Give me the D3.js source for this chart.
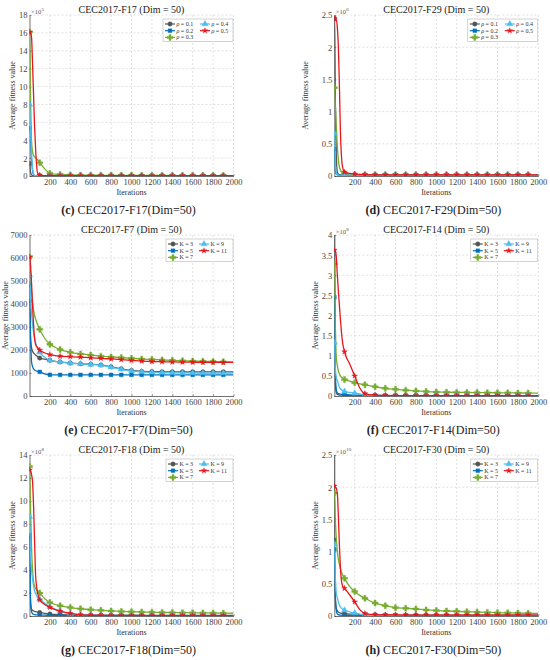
<!DOCTYPE html>
<html>
<head>
<meta charset="utf-8">
<script src="https://cdnjs.cloudflare.com/ajax/libs/d3/7.8.5/d3.min.js"></script>
<style>
body { margin: 0; background: #fff; overflow: hidden; }
svg { display: block; }
svg text { font-family: 'Liberation Serif', 'Times New Roman', serif; }
</style>
</head>
<body>
<svg width="550" height="660" viewBox="0 0 550 660"></svg>
<script>
// sampled iterations (markers drawn at 1, 100, 200 ... 1900)
const iterations = [0, 1, 10, 20, 30, 40, 50, 60, 80, 100, 150, 200, 250, 300,
  400, 500, 600, 700, 800, 900, 1000, 1100, 1200, 1300, 1400, 1500, 1600, 1700, 1800, 1900, 2000]
const xTicks = [200, 400, 600, 800, 1000, 1200, 1400, 1600, 1800, 2000]

const rhoNames = ['0.1', '0.2', '0.3', '0.4', '0.5']
const kNames = ['3', '5', '7', '9', '11']

// F17, x10^5
const f17Ticks = [0, 2, 4, 6, 8, 10, 12, 14, 16, 18]
const f17Values = [
  [1.41, 1.41, 0.5, 0.12, 0.05, 0.03, 0.025, 0.02, 0.02, 0.02, 0.02, 0.02, 0.02, 0.02,
   0.02, 0.02, 0.02, 0.02, 0.02, 0.02, 0.02, 0.02, 0.02, 0.02, 0.02, 0.02, 0.02, 0.02, 0.02, 0.02, 0.02],
  [5.37, 5.37, 4.0, 2.0, 0.6, 0.15, 0.05, 0.03, 0.02, 0.02, 0.02, 0.02, 0.02, 0.02,
   0.02, 0.02, 0.02, 0.02, 0.02, 0.02, 0.02, 0.02, 0.02, 0.02, 0.02, 0.02, 0.02, 0.02, 0.02, 0.02, 0.02],
  [16.1, 16.1, 9.0, 4.0, 2.7, 2.3, 2.15, 2.05, 1.8, 1.49, 0.8, 0.3, 0.2, 0.17,
   0.12, 0.1, 0.09, 0.08, 0.08, 0.07, 0.07, 0.06, 0.06, 0.06, 0.05, 0.05, 0.05, 0.05, 0.05, 0.05, 0.05],
  [8.0, 8.0, 5.0, 2.5, 0.8, 0.2, 0.06, 0.03, 0.02, 0.02, 0.02, 0.02, 0.02, 0.02,
   0.02, 0.02, 0.02, 0.02, 0.02, 0.02, 0.02, 0.02, 0.02, 0.02, 0.02, 0.02, 0.02, 0.02, 0.02, 0.02, 0.02],
  [16.1, 16.1, 16.0, 15.5, 12.5, 9.0, 5.5, 3.0, 0.3, 0.08, 0.04, 0.03, 0.03, 0.03,
   0.03, 0.03, 0.03, 0.03, 0.03, 0.03, 0.03, 0.03, 0.03, 0.03, 0.03, 0.03, 0.03, 0.03, 0.03, 0.03, 0.03]
]

// F29, x10^6
const f29Ticks = [0, 0.5, 1, 1.5, 2, 2.5]
const f29Values = [
  [2.45, 2.45, 1.2, 0.3, 0.06, 0.03, 0.02, 0.02, 0.015, 0.015, 0.015, 0.015, 0.015, 0.015,
   0.015, 0.015, 0.015, 0.015, 0.015, 0.015, 0.015, 0.015, 0.015, 0.015, 0.015, 0.015, 0.015, 0.015, 0.015, 0.015, 0.015],
  [0.42, 0.42, 0.1, 0.03, 0.02, 0.015, 0.015, 0.015, 0.015, 0.015, 0.015, 0.015, 0.015, 0.015,
   0.015, 0.015, 0.015, 0.015, 0.015, 0.015, 0.015, 0.015, 0.015, 0.015, 0.015, 0.015, 0.015, 0.015, 0.015, 0.015, 0.015],
  [1.37, 1.37, 1.1, 0.75, 0.45, 0.25, 0.14, 0.09, 0.05, 0.04, 0.03, 0.02, 0.02, 0.02,
   0.018, 0.018, 0.018, 0.018, 0.018, 0.018, 0.018, 0.018, 0.018, 0.018, 0.018, 0.018, 0.018, 0.018, 0.018, 0.018, 0.018],
  [0.66, 0.66, 0.2, 0.05, 0.02, 0.015, 0.015, 0.015, 0.015, 0.015, 0.015, 0.015, 0.015, 0.015,
   0.015, 0.015, 0.015, 0.015, 0.015, 0.015, 0.015, 0.015, 0.015, 0.015, 0.015, 0.015, 0.015, 0.015, 0.015, 0.015, 0.015],
  [2.44, 2.44, 2.43, 2.42, 2.3, 2.0, 1.4, 0.7, 0.15, 0.06, 0.04, 0.03, 0.025, 0.02,
   0.018, 0.018, 0.018, 0.018, 0.018, 0.018, 0.018, 0.018, 0.018, 0.018, 0.018, 0.018, 0.018, 0.018, 0.018, 0.018, 0.018]
]

// F7
const f7Ticks = [0, 1000, 2000, 3000, 4000, 5000, 6000, 7000]
const f7Values = [
  [4850, 4850, 2500, 2100, 1950, 1870, 1820, 1780, 1710, 1650, 1600, 1550, 1510, 1480,
   1430, 1400, 1380, 1350, 1270, 1180, 1110, 1070, 1060, 1055, 1050, 1050, 1050, 1050, 1050, 1050, 1050],
  [4140, 4140, 2600, 1500, 1280, 1180, 1130, 1100, 1070, 1050, 960, 920, 915, 915,
   915, 915, 915, 915, 915, 915, 915, 915, 915, 915, 915, 915, 915, 915, 915, 915, 915],
  [6050, 6050, 5300, 4600, 4100, 3750, 3500, 3350, 3100, 2900, 2500, 2250, 2120, 2020,
   1900, 1830, 1780, 1730, 1700, 1670, 1640, 1610, 1590, 1570, 1550, 1535, 1520, 1510, 1500, 1490, 1480],
  [5250, 5250, 4300, 3600, 3100, 2750, 2500, 2300, 2050, 1900, 1680, 1550, 1510, 1480,
   1430, 1400, 1370, 1340, 1250, 1160, 1090, 1050, 1030, 1020, 1010, 1005, 1000, 1000, 1000, 1000, 1000],
  [6050, 6050, 5700, 4900, 3900, 3100, 2500, 2250, 2100, 2000, 1870, 1800, 1760, 1730,
   1710, 1690, 1660, 1640, 1610, 1580, 1550, 1520, 1500, 1490, 1480, 1475, 1470, 1465, 1462, 1460, 1460]
]

// F14, x10^8
const f14Ticks = [0, 0.5, 1, 1.5, 2, 2.5, 3, 3.5, 4]
const f14Values = [
  [4.2, 4.2, 0.3, 0.08, 0.04, 0.03, 0.025, 0.02, 0.02, 0.015, 0.012, 0.01, 0.01, 0.01,
   0.01, 0.01, 0.01, 0.01, 0.01, 0.01, 0.01, 0.01, 0.01, 0.01, 0.01, 0.01, 0.01, 0.01, 0.01, 0.01, 0.01],
  [2.45, 2.45, 0.6, 0.15, 0.08, 0.06, 0.05, 0.045, 0.04, 0.035, 0.03, 0.025, 0.02, 0.02,
   0.015, 0.01, 0.01, 0.01, 0.01, 0.01, 0.01, 0.01, 0.01, 0.01, 0.01, 0.01, 0.01, 0.01, 0.01, 0.01, 0.01],
  [3.28, 3.28, 1.8, 0.95, 0.75, 0.62, 0.55, 0.5, 0.45, 0.41, 0.37, 0.33, 0.3, 0.28,
   0.23, 0.19, 0.165, 0.145, 0.125, 0.11, 0.1, 0.095, 0.09, 0.088, 0.085, 0.082, 0.08, 0.078, 0.075, 0.073, 0.07],
  [1.33, 1.33, 0.7, 0.45, 0.38, 0.3, 0.22, 0.18, 0.13, 0.11, 0.09, 0.07, 0.05, 0.03,
   0.012, 0.008, 0.006, 0.006, 0.006, 0.006, 0.006, 0.006, 0.006, 0.006, 0.006, 0.006, 0.006, 0.006, 0.006, 0.006, 0.006],
  [3.62, 3.62, 3.6, 3.45, 3.0, 2.6, 2.25, 1.9, 1.35, 1.1, 0.8, 0.5, 0.2, 0.06,
   0.02, 0.012, 0.01, 0.01, 0.009, 0.009, 0.008, 0.008, 0.008, 0.008, 0.008, 0.008, 0.008, 0.008, 0.008, 0.008, 0.008]
]

// F18, x10^8
const f18Ticks = [0, 2, 4, 6, 8, 10, 12, 14]
const f18Values = [
  [6.76, 6.76, 1.5, 0.6, 0.5, 0.45, 0.4, 0.38, 0.33, 0.3, 0.22, 0.17, 0.14, 0.12,
   0.1, 0.09, 0.08, 0.08, 0.07, 0.07, 0.07, 0.06, 0.06, 0.06, 0.06, 0.06, 0.06, 0.06, 0.06, 0.06, 0.06],
  [7.04, 7.04, 1.0, 0.4, 0.2, 0.15, 0.12, 0.1, 0.09, 0.08, 0.07, 0.06, 0.05, 0.05,
   0.04, 0.04, 0.04, 0.03, 0.03, 0.03, 0.03, 0.03, 0.03, 0.03, 0.03, 0.03, 0.03, 0.03, 0.03, 0.03, 0.03],
  [13.0, 13.0, 9.5, 6.0, 4.0, 3.0, 2.6, 2.4, 2.15, 2.0, 1.5, 1.18, 1.0, 0.9,
   0.73, 0.63, 0.55, 0.49, 0.44, 0.4, 0.37, 0.35, 0.33, 0.31, 0.3, 0.29, 0.28, 0.27, 0.26, 0.25, 0.24],
  [8.64, 8.64, 5.5, 4.0, 3.2, 2.6, 2.2, 1.95, 1.6, 1.45, 1.1, 0.8, 0.6, 0.43,
   0.2, 0.1, 0.06, 0.05, 0.04, 0.04, 0.04, 0.04, 0.04, 0.04, 0.04, 0.04, 0.04, 0.04, 0.04, 0.04, 0.04],
  [12.7, 12.7, 12.6, 12.3, 11.7, 9.5, 6.5, 3.5, 2.0, 1.4, 1.0, 0.75, 0.55, 0.42,
   0.22, 0.1, 0.06, 0.05, 0.04, 0.04, 0.04, 0.04, 0.04, 0.04, 0.04, 0.04, 0.04, 0.04, 0.04, 0.04, 0.04]
]

// F30, x10^10
const f30Ticks = [0, 0.5, 1, 1.5, 2, 2.5]
const f30Values = [
  [2.6, 1.18, 0.3, 0.12, 0.08, 0.06, 0.05, 0.045, 0.04, 0.035, 0.03, 0.025, 0.022, 0.02,
   0.018, 0.016, 0.015, 0.014, 0.013, 0.012, 0.012, 0.012, 0.012, 0.012, 0.012, 0.012, 0.012, 0.012, 0.012, 0.012, 0.012],
  [1.035, 1.035, 0.3, 0.08, 0.03, 0.02, 0.015, 0.012, 0.01, 0.01, 0.008, 0.007, 0.006, 0.005,
   0.005, 0.005, 0.005, 0.005, 0.005, 0.005, 0.005, 0.005, 0.005, 0.005, 0.005, 0.005, 0.005, 0.005, 0.005, 0.005, 0.005],
  [1.91, 1.91, 1.5, 1.2, 1.0, 0.88, 0.8, 0.73, 0.64, 0.585, 0.46, 0.38, 0.32, 0.275,
   0.2, 0.16, 0.13, 0.12, 0.11, 0.095, 0.085, 0.078, 0.072, 0.066, 0.061, 0.056, 0.052, 0.049, 0.046, 0.043, 0.04],
  [1.12, 1.12, 0.6, 0.35, 0.28, 0.22, 0.17, 0.14, 0.11, 0.09, 0.065, 0.045, 0.03, 0.015,
   0.008, 0.005, 0.005, 0.005, 0.005, 0.005, 0.005, 0.005, 0.005, 0.005, 0.005, 0.005, 0.005, 0.005, 0.005, 0.005, 0.005],
  [2.02, 2.02, 2.0, 1.98, 1.9, 1.55, 1.1, 0.75, 0.47, 0.43, 0.33, 0.22, 0.1, 0.04,
   0.02, 0.018, 0.016, 0.015, 0.015, 0.015, 0.015, 0.015, 0.015, 0.015, 0.015, 0.015, 0.015, 0.015, 0.015, 0.015, 0.015]
]

const panels = [
  { tag: '(c)', fn: 'F17', exp: '5', ticks: f17Ticks, values: f17Values, sym: 'ρ', names: rhoNames },
  { tag: '(d)', fn: 'F29', exp: '6', ticks: f29Ticks, values: f29Values, sym: 'ρ', names: rhoNames },
  { tag: '(e)', fn: 'F7', exp: null, ticks: f7Ticks, values: f7Values, sym: 'K', names: kNames },
  { tag: '(f)', fn: 'F14', exp: '8', ticks: f14Ticks, values: f14Values, sym: 'K', names: kNames },
  { tag: '(g)', fn: 'F18', exp: '8', ticks: f18Ticks, values: f18Values, sym: 'K', names: kNames },
  { tag: '(h)', fn: 'F30', exp: '10', ticks: f30Ticks, values: f30Values, sym: 'K', names: kNames }
]

// styling
const colors = ['#555555', '#0072BD', '#77AC30', '#4DBEEE', '#e8161b']
const shapes = [d3.symbolCircle, d3.symbolSquare, d3.symbolCross, d3.symbolTriangle, d3.symbolStar]
const shapeSize = [16, 14, 20, 16, 10]
const origins = [[29.5, 15], [334.3, 15], [29.5, 235], [334.3, 235], [29.5, 455], [334.3, 455]]
const yLabelOffset = [-14.5, -26, -22, -16.5, -14.5, -16.5]
const innerWidth = 204
const innerHeight = 161

const svg = d3.select('svg')
const defs = svg.append('defs')

panels.forEach((p, pi) => {
  const [ox, oy] = origins[pi]
  const g = svg.append('g').attr('transform', `translate(${ox},${oy})`)

  const xScale = d3.scaleLinear().domain([0, 2000]).range([0, innerWidth])
  const yScale = d3.scaleLinear().domain([0, d3.max(p.ticks)]).range([innerHeight, 0])

  // dashed grid
  g.append('g').selectAll('line').data(xTicks).join('line')
    .attr('x1', d => xScale(d)).attr('x2', d => xScale(d))
    .attr('y1', 0).attr('y2', innerHeight)
    .attr('stroke', '#cdcdcd').attr('stroke-width', 0.6).attr('stroke-dasharray', '2,2')
  g.append('g').selectAll('line').data(p.ticks.slice(1)).join('line')
    .attr('x1', 0).attr('x2', innerWidth)
    .attr('y1', d => yScale(d)).attr('y2', d => yScale(d))
    .attr('stroke', '#cdcdcd').attr('stroke-width', 0.6).attr('stroke-dasharray', '2,2')

  // axes
  const xAxis = d3.axisBottom(xScale).tickValues(xTicks).tickFormat(d3.format('d'))
    .tickSize(-2).tickSizeOuter(0)
  const gx = g.append('g').attr('transform', `translate(0,${innerHeight})`).call(xAxis)
  gx.selectAll('.tick text').attr('dy', null).attr('y', 9).attr('text-anchor', 'middle')
  const yAxis = d3.axisLeft(yScale).tickValues(p.ticks).tickFormat(d3.format('~g'))
    .tickSize(-2).tickSizeOuter(0)
  const gy = g.append('g').call(yAxis)
  gy.selectAll('.tick text').attr('dy', null).attr('x', -2).attr('y', 2.9).attr('text-anchor', 'end')
  ;[gx, gy].forEach(a => {
    a.attr('font-size', 8.5)
    a.select('.domain').attr('stroke', '#333').attr('stroke-width', 0.7)
    a.selectAll('.tick line').attr('stroke', '#333').attr('stroke-width', 0.5)
    a.selectAll('.tick text').attr('fill', '#444').attr('font-size', 8.5)
  })

  // clip
  const clipId = 'clip' + pi
  defs.append('clipPath').attr('id', clipId).append('rect')
    .attr('width', innerWidth).attr('height', innerHeight)
  const plot = g.append('g').attr('clip-path', `url(#${clipId})`)

  const line = d3.line()
    .x((d, i) => xScale(iterations[i]))
    .y(d => yScale(d))
    .curve(d3.curveMonotoneX)

  p.values.forEach((vals, si) => {
    plot.append('path').datum(vals)
      .attr('d', line)
      .attr('fill', 'none')
      .attr('stroke', colors[si])
      .attr('stroke-width', 1.3)
    const marks = iterations
      .map((it, i) => ({ it, v: vals[i] }))
      .filter(d => d.it === 1 || (d.it % 100 === 0 && d.it > 0 && d.it < 2000))
    plot.selectAll(null).data(marks).join('path')
      .attr('transform', d => `translate(${xScale(d.it)},${yScale(d.v)})`)
      .attr('d', d3.symbol().type(shapes[si]).size(shapeSize[si]))
      .attr('fill', colors[si])
      .attr('stroke', colors[si])
      .attr('stroke-width', 0.4)
  })

  // title
  g.append('text')
    .attr('x', innerWidth / 2).attr('y', -2)
    .attr('text-anchor', 'middle')
    .attr('font-size', 10).attr('fill', '#222')
    .text(`CEC2017-${p.fn} (Dim = 50)`)

  // exponent
  if (p.exp) {
    const base = g.append('text')
      .attr('x', 1.5).attr('y', -1.5).attr('text-anchor', 'start')
      .attr('font-size', 6.5).attr('fill', '#555')
      .text('×10')
    const bw = base.node().getComputedTextLength()
    g.append('text')
      .attr('x', 1.5 + bw + 0.3).attr('y', -4).attr('text-anchor', 'start')
      .attr('font-size', 5).attr('fill', '#555')
      .text(p.exp)
  }

  // axis labels
  g.append('text')
    .attr('transform', `translate(${yLabelOffset[pi]},${innerHeight / 2}) rotate(-90)`)
    .attr('text-anchor', 'middle')
    .attr('font-size', 8).attr('fill', '#333')
    .text('Average fitness value')
  g.append('text')
    .attr('x', innerWidth / 2).attr('y', innerHeight + 19)
    .attr('text-anchor', 'middle')
    .attr('font-size', 8).attr('fill', '#333')
    .text('Iterations')

  // legend
  const isRho = p.sym === 'ρ'
  const lw = isRho ? 70 : 67
  const colStep = isRho ? 35 : 31
  const lg = g.append('g').attr('transform', `translate(${innerWidth - lw - 0.5},4)`)
  lg.append('rect').attr('width', lw).attr('height', 22.5)
    .attr('fill', '#fff').attr('stroke', '#a8a8a8').attr('stroke-width', 0.5)
  p.names.forEach((nm, si) => {
    const col = si < 3 ? 0 : 1
    const row = si < 3 ? si : si - 3
    const ex = 2 + col * colStep
    const ey = 5 + row * 6.7
    lg.append('line')
      .attr('x1', ex).attr('x2', ex + 10).attr('y1', ey).attr('y2', ey)
      .attr('stroke', colors[si]).attr('stroke-width', 1.2)
    lg.append('path')
      .attr('transform', `translate(${ex + 5},${ey})`)
      .attr('d', d3.symbol().type(shapes[si]).size(shapeSize[si]))
      .attr('fill', colors[si]).attr('stroke', colors[si]).attr('stroke-width', 0.4)
    const s = lg.append('text')
      .attr('x', ex + 11.5).attr('y', ey + 2).attr('text-anchor', 'start')
      .attr('font-size', 6).attr('fill', '#333')
      .attr('font-style', isRho ? 'italic' : 'normal')
      .text(p.sym)
    const sw = s.node().getComputedTextLength()
    lg.append('text')
      .attr('x', ex + 11.5 + sw + 1.4).attr('y', ey + 2).attr('text-anchor', 'start')
      .attr('font-size', 6).attr('fill', '#333')
      .text('= ' + nm)
  })

  // caption: bold tag + plain text, centred together
  const capY = innerHeight + 37.5
  const tagText = g.append('text').attr('y', capY).attr('text-anchor', 'start')
    .attr('font-size', 12).attr('font-weight', 'bold').attr('fill', '#222')
    .text(p.tag)
  const restText = g.append('text').attr('y', capY).attr('text-anchor', 'start')
    .attr('font-size', 12).attr('fill', '#222')
    .text(`CEC2017-${p.fn}(Dim=50)`)
  const tw = tagText.node().getComputedTextLength()
  const rw = restText.node().getComputedTextLength()
  const gap = 3
  const startX = innerWidth / 2 - 3 - (tw + gap + rw) / 2
  tagText.attr('x', startX)
  restText.attr('x', startX + tw + gap)
})
</script>
</body>
</html>
